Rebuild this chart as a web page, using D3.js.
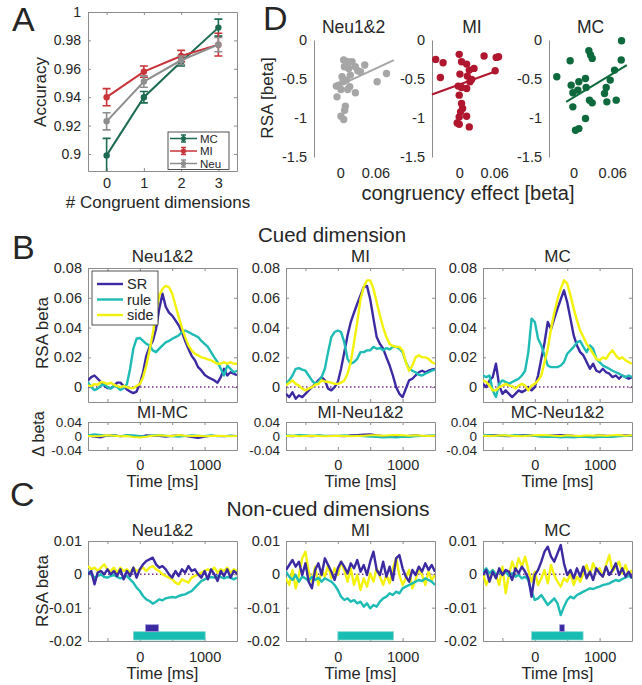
<!DOCTYPE html>
<html>
<head>
<meta charset="utf-8">
<script src="https://cdn.jsdelivr.net/npm/d3@7"></script>
<style>
body { margin: 0; background: #fff; }
svg { font-family: "Liberation Sans", Arial, sans-serif; }
</style>
</head>
<body>
<svg id="fig" width="642" height="685"></svg>
<script>
// ---- panel A: accuracy by number of congruent dimensions
var accDims = [0, 1, 2, 3];
var accMC  = [0.899, 0.940, 0.965, 0.989];
var accMI  = [0.940, 0.958, 0.969, 0.977];
var accNeu = [0.923, 0.951, 0.966, 0.977];
var errMC  = [0.012, 0.004, 0.003, 0.006];
var errMI  = [0.006, 0.004, 0.004, 0.008];
var errNeu = [0.006, 0.004, 0.003, 0.005];
var accTicks = [0.9, 0.92, 0.94, 0.96, 0.98, 1];

// ---- panel D: RSA beta vs congruency effect (one dot per subject)
var dNeuX = [0.0057,0.0126,0.020,0.0069,0.0143,0.0257,0.0297,0.0417,0.0343,0.0171,0.0029,0.0103,0.0046,
             -0.0029,0.016,-0.0069,0.0011,0.0126,0.0257,-0.0057,0.0086,0.0074,0.0011,0.0057,0.0629,0.0789];
var dNeuY = [-0.257,-0.279,-0.279,-0.343,-0.364,-0.343,-0.394,-0.321,-0.407,-0.45,-0.471,-0.514,-0.536,
             -0.579,-0.6,-0.591,-0.634,-0.634,-0.677,-0.729,-0.849,-0.9,-0.977,-1.02,-0.536,-0.429];
var dMIX = [-0.0404,-0.0277,-0.0323,0,0.004,0.0127,0.0173,0.0254,0.0427,0.0635,0.0675,0.0617,0.0012,0.0138,
            0.0213,0.0185,-0.0017,0.004,0.0127,0,0.004,0.0058,0.0023,0,0.0127,-0.0035,0,0.0173];
var dMIY = [-0.249,-0.291,-0.48,-0.184,-0.279,-0.309,-0.386,-0.364,-0.206,-0.223,-0.214,-0.394,-0.437,-0.463,
            -0.506,-0.536,-0.591,-0.609,-0.621,-0.707,-0.814,-0.879,-0.921,-0.986,-0.977,-1.063,-1.08,-1.114];
var dMCX = [-0.0259,-0.0036,0.0083,0.0186,-0.0052,0.0238,0.0264,0.029,0.0745,0.074,0.0636,-0.001,0.0067,
            0.0196,0.0248,0.029,0.0507,0.0569,0.0481,0.0517,0.0662,-0.001,0.0186,0.0031,0.0083];
var dMCY = [-0.471,-0.579,-0.536,-0.493,-0.266,-0.137,-0.193,-0.236,-0.009,-0.257,-0.386,-0.677,-0.643,
            -0.609,-0.771,-0.806,-0.609,-0.514,-0.686,-0.793,-0.771,-0.857,-1.007,-1.157,-1.136];
var dFitSlope = [3.49, 2.72, 5.02];
var dFitIntercept = [-0.576, -0.572, -0.736];
var dFitFrom = [-0.007, -0.0467, -0.0114];
var dFitTo = [0.0914, 0.0606, 0.0827];
var dTicksY = [-1.5, -1, -0.5, 0];
var dTicksX = [0, 0.06];

// ---- panels B and C: RSA time courses, sampled every 50 ms from -800 to 1500
var times = d3.range(-800, 1501, 50);
var diffTimes = d3.range(-800, 1501, 100);
var groups = ['Neu1&2', 'MI', 'MC'];
var diffTitles = ['MI-MC', 'MI-Neu1&2', 'MC-Neu1&2'];

var bNeuSR = [0.0045,0.0067,0.0078,0.0056,0.0034,0.001,-0.0007,-0.0007,0.0007,0.003,0.003,0.0007,-0.0016,-0.003,-0.004,-0.003,
  0.0022,0.010,0.021,0.027,0.031,0.039,0.0527,0.0627,0.054,0.050,
  0.048,0.0448,0.0415,0.037,0.031,0.0258,0.021,0.018,0.0134,0.0112,
  0.0083,0.0067,0.0056,0.0045,0.003,0.0067,0.0123,0.0078,0.010,0.009, 0.008];
var bNeuRule = [0.0034,0,-0.002,-0.001,0.001,0.002,0,-0.001,0.001,0,-0.002,-0.0007,0.002,0.0123,0.0258,0.0325,
  0.033,0.031,0.029,0.028,0.0247,0.0235,0.0258,0.028,0.030,0.031,
  0.0325,0.0336,0.0347,0.037,0.038,0.037,0.0358,0.0347,0.0336,0.031,
  0.029,0.027,0.0235,0.020,0.0168,0.0123,0.0078,0.0145,0.0123,0.010, 0.011];
var bNeuSide = [0.001,0.0007,0.002,0.0016,0.0034,0.003,0.002,0.003,0.0016,0.0007,0,0.0007,0,-0.0007,-0.0007,0.0007,
  0.002,0.0067,0.0145,0.0247,0.0358,0.050,0.0616,0.066,0.068,0.0672,
  0.0627,0.055,0.047,0.040,0.0336,0.028,0.0247,0.0224,0.0213,0.020,
  0.0195,0.0186,0.018,0.0168,0.0157,0.0157,0.0168,0.0157,0.0168,0.0157, 0.0157];
var bMISR = [-0.0045,-0.0067,-0.0034,-0.0078,-0.0056,-0.0067,-0.0045,-0.0022,0,0.0022,0.0045,0.0067,0.0045,-0.001,-0.0022,0,
  0.0034,0.0123,0.0235,0.0347,0.0437,0.050,0.056,0.0616,0.0672,0.068,
  0.059,0.046,0.0336,0.029,0.0258,0.020,0.0145,0.0078,0,-0.0045,
  -0.0067,-0.0011,0.0045,0.0056,0.0078,0.010,0.011,0.010,0.011,0.0118, 0.0123];
var bMIRule = [0.0022,0.0045,0.0078,0.0123,0.0128,0.0118,0.011,0.0078,0.0045,0.0022,0.0034,0.0067,0.0123,0.0235,0.0336,0.037,
  0.038,0.037,0.030,0.019,0.0157,0.0168,0.019,0.0235,0.0235,0.0247,
  0.0247,0.027,0.0258,0.0262,0.0247,0.0262,0.0253,0.027,0.027,0.0258,
  0.0235,0.0168,0.0123,0.011,0.010,0.0083,0.0078,0.009,0.010,0.011, 0.0118];
var bMISide = [0.001,0.003,0.0045,0.0022,0.001,-0.001,-0.0022,-0.001,0,0.0016,0.0022,0.0045,0.0038,0.0034,0.003,0.0022,
  0.0022,0.003,0.0045,0.009,0.0168,0.030,0.0437,0.059,0.0672,0.0717,
  0.0717,0.066,0.057,0.048,0.040,0.0336,0.029,0.0276,0.027,0.027,
  0.0247,0.0168,0.011,0.0145,0.020,0.0213,0.020,0.020,0.019,0.0168, 0.0157];
var bMCSR = [0.0022,0,0.0045,0.0067,0.0157,0.001,-0.0045,-0.0022,-0.0045,-0.0067,-0.0045,-0.0022,-0.0034,-0.0022,0,-0.0022,
  0,0.0078,0.019,0.030,0.0437,0.039,0.046,0.0527,0.059,0.065,
  0.057,0.046,0.0347,0.028,0.0235,0.0213,0.0168,0.0123,0.0157,0.011,
  0.010,0.0123,0.010,0.009,0.0067,0.0078,0.0056,0.0078,0.0067,0.0056, 0.0067];
var bMCRule = [0.0078,0.0067,0.0078,-0.0022,-0.0067,0.0022,0.0045,0.0034,0.0022,0.0034,0.0045,0.0056,0.0078,0.011,0.0235,0.046,
  0.0437,0.0325,0.028,0.0213,0.0145,0.0134,0.0134,0.0134,0.0145,0.0168,
  0.0224,0.0247,0.027,0.030,0.031,0.027,0.0235,0.028,0.0258,0.019,
  0.0168,0.0145,0.0134,0.0123,0.011,0.010,0.009,0.0078,0.0067,0.0078, 0.0067];
var bMCSide = [0.0045,0.0034,0.001,-0.0022,-0.0022,0,0.001,0.0022,0.001,0.0007,-0.001,0.001,0.0022,0.001,-0.0022,0.001,
  0.0022,0.0045,0.0078,0.0168,0.0258,0.039,0.050,0.059,0.066,0.0717,
  0.0695,0.0616,0.0527,0.0448,0.038,0.0336,0.029,0.0258,0.0224,0.019,
  0.018,0.020,0.019,0.0224,0.0247,0.0213,0.019,0.020,0.018,0.0168, 0.0157];

// differences between conditions, every 100 ms
var dfMIMCSR   = [0.001,-0.002,-0.004,0.001,0.002,-0.001,0.001,0,-0.003,0.002,0.001,0,-0.002,0.001,0.002,0,-0.003,-0.006,-0.002,0.001,0,-0.001,0.001,0];
var dfMIMCRule = [0.002,0.005,0.003,0.001,0.002,-0.001,0.003,0.002,0,-0.001,0.002,0.003,0.001,-0.001,-0.002,0,0.002,0.001,0,0.002,-0.001,0,0.001,0];
var dfMIMCSide = [0,-0.001,0,0.002,0.001,-0.001,0,-0.003,-0.004,-0.002,0.001,0.002,0.001,0,0.003,0.001,0,0.001,-0.001,0,0.001,0,-0.001,0];
var dfMINeuSR   = [0,-0.001,0.001,0,-0.001,0.001,0,0.001,0,-0.001,0.002,0.003,0.004,0.005,0.002,0,-0.001,0,-0.002,0.001,0.002,0,0.001,0];
var dfMINeuRule = [0.002,0.001,0.003,0.002,0.001,0.002,0.001,0,0.001,0.002,0,0.001,-0.001,-0.002,-0.003,-0.004,-0.003,-0.004,-0.002,-0.003,-0.001,0,0.001,0.002];
var dfMINeuSide = [0,0.001,-0.001,0,0.001,0,-0.001,0,0.001,0,-0.001,0,0.001,0.002,0.002,0.001,0.002,0.003,0.002,0.001,0.002,0.001,0,0.001];
var dfMCNeuSR   = [0.001,0.003,0.002,0,-0.001,0.001,0.002,0.003,0,-0.001,0.001,0.002,0.003,0.002,0.001,-0.002,-0.001,0,0.002,0.001,0,0.001,0.002,0.001];
var dfMCNeuRule = [0.003,0.002,0.001,0.002,0.001,0.003,0.001,0.002,0,-0.002,-0.003,-0.002,-0.004,-0.003,-0.004,-0.002,-0.003,-0.004,-0.003,-0.002,-0.003,-0.001,0,0.001];
var dfMCNeuSide = [0.001,0,0.001,0.002,0.001,0,-0.001,0.001,0.002,0.003,0.002,0.001,0,0.002,0.001,0,0.002,0.001,0.002,0.001,0.002,0.003,0.001,0.002];

// non-cued dimensions
var cNeuSR = [0,0.001,-0.003,0.0005,0.001,0,0.0015,0,0.001,-0.0005,0.0015,-0.0015,0.001,-0.0005,0.002,-0.001,
  0.0015,0.003,0.004,0.0045,0.005,0.003,0.002,0.0025,0.0015,0,
  -0.001,0.001,-0.0005,0.0015,0.0005,0.0025,0.001,0.0015,0,-0.001,
  0.001,-0.0015,0.0015,0,-0.002,0.001,-0.0005,0.0015,-0.001,0.001, 0.0002];
var cNeuRule = [0.001,0,-0.001,-0.0005,0,-0.0008,-0.001,-0.0005,-0.0002,-0.0008,-0.0012,-0.001,-0.0005,-0.0015,-0.0025,-0.004,
  -0.005,-0.0065,-0.0075,-0.008,-0.0088,-0.0082,-0.0075,-0.0078,-0.0072,-0.007,
  -0.0068,-0.007,-0.0065,-0.0062,-0.006,-0.0055,-0.005,-0.004,-0.003,-0.002,
  -0.0015,-0.001,-0.0008,-0.001,-0.0005,-0.0008,-0.0012,-0.0008,-0.001,-0.0015, -0.001];
var cNeuSide = [0.0025,0.0015,0.002,0.001,0.002,0.003,0.0015,0.001,0.002,0.0005,0.002,0.001,0.0015,0.0005,0.002,0.001,
  0.0015,0.002,0.001,0.002,0.0025,0.0015,0.001,0,-0.0005,-0.001,
  -0.0015,-0.0025,-0.003,-0.0015,-0.002,-0.0025,-0.001,-0.0005,0,0.0005,
  0.001,0.0015,0.001,0.002,0.0005,0.0015,0.001,0.002,0.0005,0.0015, 0.001];
var cMISR = [0.0013,0.0028,0.0043,0.0023,0.0038,-0.0002,0.0033,-0.0022,-0.0042,0.0013,0.0033,-0.0002,0.0048,0.0028,0.0008,-0.0017,
  0.0018,0.0038,0.0023,0.0003,0.0033,0.0018,0.0043,0.0008,0.0028,-0.0002,
  0.0038,0.0068,0.0013,-0.0002,0.0038,-0.0007,0.0023,-0.0017,0.0048,0.0058,
  0.0018,-0.0007,-0.0022,0.0013,-0.0002,0.0023,0.0008,0.0033,0.0013,0.0028, 0.0008];
var cMIRule = [0.0008,-0.0007,-0.0017,-0.0002,-0.0022,-0.0007,-0.0012,-0.002,-0.0007,-0.0017,-0.001,-0.0022,-0.0012,-0.0017,-0.0022,-0.0032,
  -0.0047,-0.0067,-0.0077,-0.0072,-0.0082,-0.0077,-0.0087,-0.0082,-0.0097,-0.0087,
  -0.0102,-0.0092,-0.0097,-0.0082,-0.0072,-0.0067,-0.0057,-0.0062,-0.0052,-0.0057,
  -0.0042,-0.0037,-0.0032,-0.0027,-0.0022,-0.0017,-0.002,-0.0012,-0.0017,-0.0022, -0.0032];
var cMISide = [-0.0012,-0.0032,0.0013,-0.0042,-0.0002,0.0048,0.0068,0.0008,-0.0022,0.0023,-0.0032,0.0013,-0.0007,0.0028,-0.0012,0.0018,
  -0.0002,0.0038,0.0013,-0.0022,0.0018,-0.0032,-0.0002,-0.0047,-0.0012,-0.0037,
  0.0003,-0.0022,0.0018,-0.0007,-0.0032,-0.0002,-0.0027,0.0018,0.0048,-0.0002,
  -0.0032,-0.0012,0.0013,-0.0042,-0.0017,0.0018,-0.0002,-0.0032,0.0008,-0.0017, -0.0002];
var cMCSR = [-0.0002,0.0013,-0.0022,0.0008,-0.0012,0.0018,-0.0002,0.0013,0.0008,-0.0017,0.0018,0.0003,0.0023,0.0008,-0.0012,-0.0067,
  -0.0002,0.0013,0.0038,0.0068,0.0083,0.0053,0.0038,0.0063,0.0088,0.0033,
  -0.0002,0.0013,-0.0012,0.0018,-0.0007,0.0023,-0.0012,0.0008,-0.0017,0.0018,
  0.0003,-0.0007,0.0023,-0.0002,0.0013,0.0033,-0.0002,0.0018,-0.0007,0.0008, -0.0012];
var cMCRule = [0.0008,0.0018,0.0003,0.0013,-0.0002,0.0008,0,0.0008,-0.0004,0.0003,-0.0007,-0.0002,-0.0012,-0.0007,-0.0017,-0.0052,
  -0.0077,-0.0072,-0.0062,-0.0077,-0.0092,-0.0082,-0.0072,-0.0087,-0.0122,-0.0097,
  -0.0077,-0.0067,-0.0072,-0.0062,-0.0057,-0.0052,-0.0047,-0.0042,-0.0044,-0.004,
  -0.0037,-0.0032,-0.003,-0.0027,-0.0022,-0.0017,-0.002,-0.0014,-0.001,-0.0004, -0.0012];
var cMCSide = [0.0003,-0.0032,-0.0012,0.0013,-0.0002,-0.0032,0.0023,-0.0057,-0.0002,0.0038,0.0008,0.0048,0.0023,0.0053,0.0013,-0.0022,
  0.0008,-0.0032,-0.0012,0.0013,-0.0027,0.0028,-0.0002,-0.0022,-0.0037,-0.0012,
  -0.0022,0.0003,-0.0032,-0.0007,-0.0022,0.0003,0.0028,-0.0002,0.0033,0.0008,
  0.0018,-0.0007,0.0028,0.0058,0.0008,0.0023,0.0038,0.0003,0.0028,-0.0002, 0.0013];

// significant time windows (ms) drawn under panel C
var cSigRule = [[-100, 1010], [0, 858], [-50, 745]];
var cSigSR = [[87, 291], null, [383, 459]];

var bTicksY = [0, 0.02, 0.04, 0.06, 0.08];
var diffTicksY = [-0.04, 0, 0.04];
var cTicksY = [-0.02, -0.01, 0, 0.01];
var tTicks = [-500, 0, 500, 1000];
var tLabelled = [0, 1000];

// ---- styling
var ink = '#262626', boxCol = '#8c8c8c';
var colSR = '#3b2aa2', colRule = '#1ebcb4', colSide = '#f2f20c', zeroCol = '#7e2f8e';
var colA = {MC: '#1d6b52', MI: '#c9343a', Neu: '#8e8e8e'};
var colD = ['#a6a6a6', '#b0172f', '#0e6a3c'];
var colLeft = [88, 286, 483], colW = 149;

var svg = d3.select('#fig');
var fmt = d => String(+d.toFixed(3));
var clipId = 0;

function styleAxis(sel, size) {
	sel.attr('font-family', null).attr('font-size', null);
	sel.selectAll('.domain, .tick line').attr('stroke', boxCol);
	sel.selectAll('text').attr('fill', ink).style('font-size', size + 'px');
}

function boxAxes(x, y, xTicks, yTicks, xFmt, yFmt, xPad, yPad, ySize) {
	var g = svg.append('g');
	var x0 = x.range()[0], x1 = x.range()[1], yb = y.range()[0], yt = y.range()[1];
	g.append('g').attr('transform', `translate(0,${yb})`)
		.call(d3.axisBottom(x).tickValues(xTicks).tickSizeInner(-3).tickSizeOuter(0).tickPadding(xPad).tickFormat(xFmt))
		.call(styleAxis, 14.5);
	g.append('g').attr('transform', `translate(0,${yt})`)
		.call(d3.axisTop(x).tickValues(xTicks).tickSizeInner(-3).tickSizeOuter(0).tickFormat(''))
		.call(styleAxis, 14.5);
	g.append('g').attr('transform', `translate(${x0},0)`)
		.call(d3.axisLeft(y).tickValues(yTicks).tickSizeInner(-3).tickSizeOuter(0).tickPadding(yPad).tickFormat(yFmt))
		.call(styleAxis, ySize || 14.5);
	g.append('g').attr('transform', `translate(${x1},0)`)
		.call(d3.axisRight(y).tickValues(yTicks).tickSizeInner(-3).tickSizeOuter(0).tickFormat(''))
		.call(styleAxis, 14.5);
	return g;
}

function clipFor(x, y) {
	var id = 'clip' + (clipId++);
	svg.append('clipPath').attr('id', id).append('rect')
		.attr('x', x.range()[0]).attr('y', y.range()[1])
		.attr('width', x.range()[1] - x.range()[0]).attr('height', y.range()[0] - y.range()[1]);
	return svg.append('g').attr('clip-path', `url(#${id})`);
}

function label(txt, x, y, size, anchor, rotate) {
	var t = svg.append('text').text(txt).attr('fill', ink).style('font-size', size + 'px')
		.attr('text-anchor', anchor || 'middle');
	if (rotate) t.attr('transform', `translate(${x},${y}) rotate(-90)`).attr('dy', '0.35em');
	else t.attr('x', x).attr('y', y);
	return t;
}

// ================= panel A
(function(){
	var x = d3.scaleLinear().domain([-0.5, 3.5]).range([88, 237]);
	var y = d3.scaleLinear().domain([0.888, 1]).range([171, 12]);
	boxAxes(x, y, accDims, accTicks, d => d, fmt, 7, 7, 14);
	var g = clipFor(x, y);
	var series = [
		{name: 'MC', v: accMC, e: errMC},
		{name: 'MI', v: accMI, e: errMI},
		{name: 'Neu', v: accNeu, e: errNeu}
	];
	series.forEach(s => {
		var c = colA[s.name];
		g.append('path').datum(s.v)
			.attr('d', d3.line().x((d, i) => x(accDims[i])).y(d => y(d)))
			.attr('fill', 'none').attr('stroke', c).attr('stroke-width', 2);
		s.v.forEach((v, i) => {
			var cx = x(accDims[i]);
			g.append('path')
				.attr('d', `M${cx},${y(v - s.e[i])}V${y(v + s.e[i])}M${cx - 4},${y(v - s.e[i])}H${cx + 4}M${cx - 4},${y(v + s.e[i])}H${cx + 4}`)
				.attr('stroke', c).attr('stroke-width', 1.6).attr('fill', 'none');
			g.append('circle').attr('cx', cx).attr('cy', y(v)).attr('r', 3.2).attr('fill', c);
		});
	});
	// legend
	svg.append('rect').attr('x', 168).attr('y', 132).attr('width', 61).attr('height', 37.5)
		.attr('fill', '#fff').attr('stroke', ink).attr('stroke-width', 0.8);
	series.forEach((s, i) => {
		var ly = 138.5 + i * 12.5, c = colA[s.name];
		svg.append('path').attr('d', `M170,${ly}H197M183.5,${ly - 3.5}V${ly + 3.5}M181,${ly - 3.5}H186M181,${ly + 3.5}H186`)
			.attr('stroke', c).attr('stroke-width', 1.5).attr('fill', 'none');
		svg.append('circle').attr('cx', 183.5).attr('cy', ly).attr('r', 2.6).attr('fill', c);
		label(s.name, 200, ly + 4, 11.5, 'start');
	});
	label('Accuracy', 40, 92, 17, 'middle', true);
	label('# Congruent dimensions', 158, 208, 17);
})();

// ================= panel D
(function(){
	var lefts = [314, 432, 549], widths = [79, 80, 83];
	var domains = [[-0.045, 0.09], [-0.0467, 0.0906], [-0.038, 0.0907]];
	var xs = [dNeuX, dMIX, dMCX], ys = [dNeuY, dMIY, dMCY];
	groups.forEach((name, k) => {
		var x = d3.scaleLinear().domain(domains[k]).range([lefts[k], lefts[k] + widths[k]]);
		var y = d3.scaleLinear().domain([-1.5, 0]).range([157, 40]);
		svg.append('g').attr('transform', `translate(${lefts[k]},0)`)
			.call(d3.axisLeft(y).tickValues(dTicksY).tickSize(0).tickPadding(7).tickFormat(fmt))
			.call(styleAxis, 14.5);
		svg.append('g').attr('transform', 'translate(0,157)')
			.call(d3.axisBottom(x).tickValues(dTicksX).tickSize(0).tickPadding(11).tickFormat(fmt))
			.call(styleAxis, 14.5)
			.select('.domain').remove();
		svg.append('g').selectAll('circle')
			.data(xs[k].map((v, i) => [v, ys[k][i]]))
			.join('circle')
			.attr('cx', d => x(d[0])).attr('cy', d => y(d[1])).attr('r', 3.7)
			.attr('fill', colD[k]);
		svg.append('line')
			.attr('x1', x(dFitFrom[k])).attr('y1', y(dFitIntercept[k] + dFitSlope[k] * dFitFrom[k]))
			.attr('x2', x(dFitTo[k])).attr('y2', y(dFitIntercept[k] + dFitSlope[k] * dFitTo[k]))
			.attr('stroke', colD[k]).attr('stroke-width', 2);
		label(name, lefts[k] + widths[k] / 2, 33, 17.5);
	});
	label('RSA [beta]', 267, 98, 17, 'middle', true);
	label('congruency effect [beta]', 468, 200, 20);
})();

// ================= time-course panels
function timePanel(left, top, bottom, yDomain, yTicks, xLabels, tArr, lines, ySize) {
	var x = d3.scaleLinear().domain([-800, 1500]).range([left, left + colW]);
	var y = d3.scaleLinear().domain(yDomain).range([bottom, top]);
	boxAxes(x, y, tTicks, yTicks, d => (xLabels && tLabelled.includes(d)) ? d : '', fmt, xLabels, 6, ySize);
	var g = clipFor(x, y);
	g.append('line').attr('x1', x(-800)).attr('x2', x(1500)).attr('y1', y(0)).attr('y2', y(0))
		.attr('stroke', zeroCol).attr('stroke-width', 1.5).attr('stroke-dasharray', '1.5,2.5');
	lines.forEach(l => {
		g.append('path').datum(l.v)
			.attr('d', d3.line().x((d, i) => x(tArr[i])).y(d => y(d)))
			.attr('fill', 'none').attr('stroke', l.c).attr('stroke-width', l.w || 2.4)
			.attr('stroke-linejoin', 'round');
	});
	return {x: x, y: y, g: g};
}

// ---- panel B
var bData = [[bNeuSR, bNeuRule, bNeuSide], [bMISR, bMIRule, bMISide], [bMCSR, bMCRule, bMCSide]];
var dfData = [[dfMIMCSR, dfMIMCRule, dfMIMCSide], [dfMINeuSR, dfMINeuRule, dfMINeuSide], [dfMCNeuSR, dfMCNeuRule, dfMCNeuSide]];
groups.forEach((name, k) => {
	var left = colLeft[k];
	timePanel(left, 268, 402, [-0.01, 0.08], bTicksY, 0, times, [
		{v: bData[k][0], c: colSR}, {v: bData[k][1], c: colRule}, {v: bData[k][2], c: colSide}
	]);
	timePanel(left, 422, 450, [-0.04, 0.04], diffTicksY, 10, diffTimes, [
		{v: dfData[k][0], c: colSR, w: 2}, {v: dfData[k][1], c: colRule, w: 2}, {v: dfData[k][2], c: colSide, w: 2}
	], 13.5);
	label(name, left + colW / 2, 262, 17);
	label(diffTitles[k], left + colW / 2, 418, 17);
	label('Time [ms]', left + colW / 2, 487, 16.5);
});
label('Cued dimension', 332, 242, 20.5);
label('RSA beta', 42, 333, 17, 'middle', true);
label('\u0394 beta', 38, 434, 16, 'middle', true);

// legend in the first B panel
svg.append('rect').attr('x', 92).attr('y', 271).attr('width', 66).attr('height', 54)
	.attr('fill', '#fff').attr('stroke', ink).attr('stroke-width', 0.8);
[['SR', colSR], ['rule', colRule], ['side', colSide]].forEach((d, i) => {
	var ly = 284 + i * 15.5;
	svg.append('line').attr('x1', 97).attr('x2', 123).attr('y1', ly).attr('y2', ly)
		.attr('stroke', d[1]).attr('stroke-width', 2.4);
	label(d[0], 127, ly, 14.5, 'start').attr('dy', '0.35em');
});

// ---- panel C
var cData = [[cNeuSR, cNeuRule, cNeuSide], [cMISR, cMIRule, cMISide], [cMCSR, cMCRule, cMCSide]];
groups.forEach((name, k) => {
	var left = colLeft[k];
	var p = timePanel(left, 541, 641, [-0.02, 0.01], cTicksY, 11, times, [
		{v: cData[k][2], c: colSide}, {v: cData[k][1], c: colRule}, {v: cData[k][0], c: colSR}
	]);
	var r = cSigRule[k];
	p.g.append('rect').attr('x', p.x(r[0])).attr('width', p.x(r[1]) - p.x(r[0]))
		.attr('y', p.y(-0.0172)).attr('height', p.y(-0.0197) - p.y(-0.0172))
		.attr('fill', '#17bdb3').attr('stroke', '#8ad9d3').attr('stroke-width', 0.8);
	if (cSigSR[k]) {
		var s = cSigSR[k];
		p.g.append('rect').attr('x', p.x(s[0])).attr('width', p.x(s[1]) - p.x(s[0]))
			.attr('y', p.y(-0.0151)).attr('height', p.y(-0.0172) - p.y(-0.0151))
			.attr('fill', '#3a29a0').attr('stroke', '#a69ed8').attr('stroke-width', 0.8);
	}
	label(name, left + colW / 2, 536, 17);
	label('Time [ms]', left + colW / 2, 679, 16.5);
});
label('Non-cued dimensions', 328, 516, 21);
label('RSA beta', 42, 591, 17, 'middle', true);

// panel letters
[['A', 12, 31], ['D', 263, 30], ['B', 12, 259], ['C', 10, 506]].forEach(d => {
	label(d[0], d[1], d[2], 34, 'start');
});
</script>
</body>
</html>
